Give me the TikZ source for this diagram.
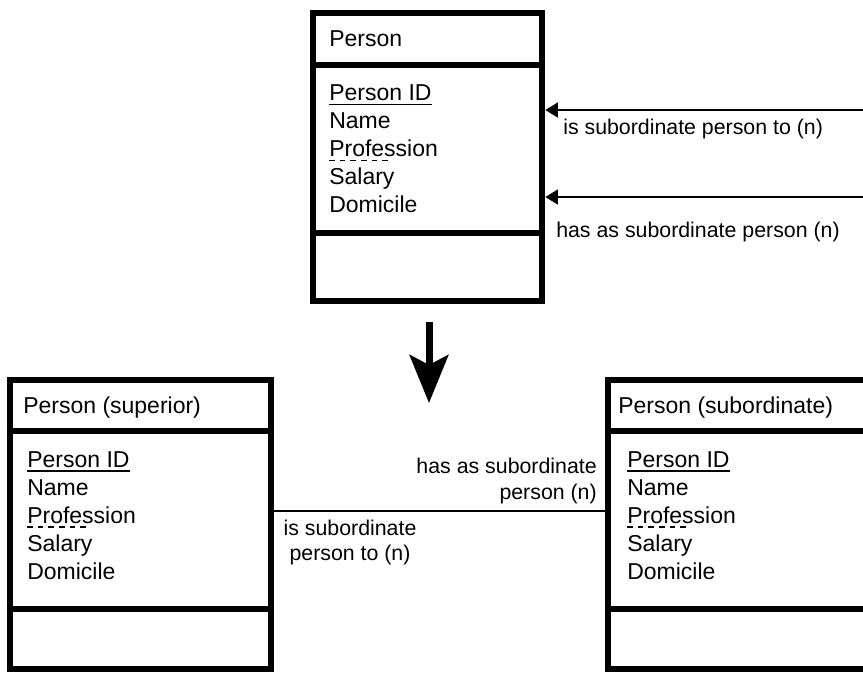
\documentclass[tikz,border=0pt]{standalone}
\usepackage{fontspec}
\setmainfont{Liberation Sans}
\usetikzlibrary{arrows.meta}

% attribute block of a Person entity: #1 name prefix, #2 left x, #3 first baseline
\newcommand{\entityattrs}[3]{%
  \node[attr] (#1-id)   at (#2,#3)    {Person ID};
  \node[attr] (#1-name) at (#2,#3+28) {Name};
  \node[attr] (#1-prof) at (#2,#3+56) {Profession};
  \node[attr] (#1-sal)  at (#2,#3+84) {Salary};
  \node[attr] (#1-dom)  at (#2,#3+112) {Domicile};
  \draw[keyline] ([yshift=-3pt]#1-id.base west) -- ([yshift=-3pt]#1-id.base east);
  \draw[fkline] ([yshift=-3pt]#1-prof.base west) -- ++(60,0);
}

\begin{document}
\begin{tikzpicture}[x=0.75pt, y=-0.75pt,
  entity/.style={draw=black, line width=4.9pt, rectangle, inner sep=0pt, fill=white},
  divider/.style={line width=4.9pt},
  attr/.style={anchor=base west, inner sep=0pt, font=\fontsize{17.25}{20}\selectfont},
  title/.style={attr},
  lbl/.style={inner sep=0pt, font=\fontsize{16}{19}\selectfont},
  keyline/.style={line width=1.1pt},
  fkline/.style={line width=1.1pt, dash pattern=on 4.2pt off 3.8pt},
  rel/.style={line width=2pt},
  relarrow/.style={rel, -{Triangle[length=9.5pt, width=11pt]}},
  transform/.style={line width=5.25pt, -{Stealth[length=36pt, width=29pt, inset=7.5pt]}}
]
\useasboundingbox (0,0) rectangle (863,672);

% original entity with the recursive relationship
\node[entity, minimum width=171.75pt, minimum height=216pt] (person) at (427.5,157) {};
\draw[divider] (person.west |- 0,65) -- (person.east |- 0,65);
\draw[divider] (person.west |- 0,233) -- (person.east |- 0,233);
\node[title] (person-title) at (329,46) {Person};
\entityattrs{p}{329}{100.5}

\coordinate (relA) at (880,110);
\coordinate (relB) at (880,197);
\draw[relarrow] (relA) -- (person.east |- relA);
\draw[relarrow] (relB) -- (person.east |- relB);
\node[lbl, anchor=base west] (relA-label) at (563,134) {is subordinate person to (n)};
\node[lbl, anchor=base west] (relB-label) at (556,237) {has as subordinate person (n)};

% transformation arrow
\coordinate (tstart) at (429,322);
\coordinate (tend) at (429,403);
\draw[transform] (tstart) -- (tend);

% resolved into two roles
\node[entity, minimum width=195.75pt, minimum height=216.75pt] (sup) at (140.5,524.5) {};
\draw[divider] (sup.west |- 0,431) -- (sup.east |- 0,431);
\draw[divider] (sup.west |- 0,609) -- (sup.east |- 0,609);
\node[title] (sup-title) at (23,413) {Person (superior)};
\entityattrs{s}{27}{467}

\node[entity, minimum width=195.75pt, minimum height=216.75pt] (sub) at (738.5,524.5) {};
\draw[divider] (sub.west |- 0,431) -- (sub.east |- 0,431);
\draw[divider] (sub.west |- 0,609) -- (sub.east |- 0,609);
\node[title] (sub-title) at (618,413) {Person (subordinate)};
\entityattrs{b}{627}{467}

\coordinate (assocY) at (0,511);
\draw[rel] (sup.east |- assocY) -- (sub.west |- assocY);
\node[lbl, anchor=base east] (has1) at (597,473) {has as subordinate};
\node[lbl, anchor=base east] (has2) at (597,499) {person (n)};
\node[lbl, anchor=base] (is1) at (350,535) {is subordinate};
\node[lbl, anchor=base] (is2) at (350,560) {person to (n)};
\end{tikzpicture}
\end{document}
